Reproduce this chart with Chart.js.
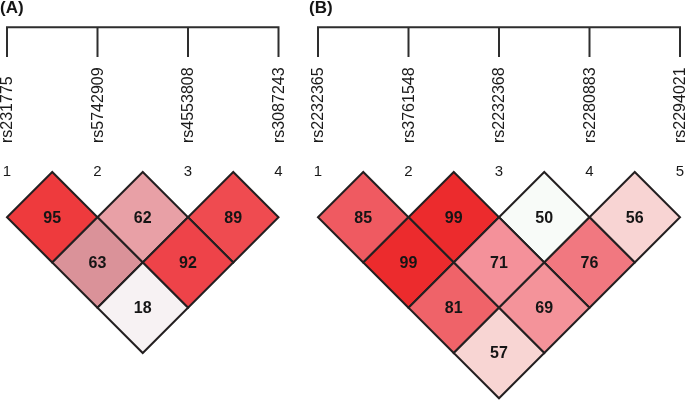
<!DOCTYPE html>
<html>
<head>
<meta charset="utf-8">
<script src="https://cdn.jsdelivr.net/npm/chart.js@4"></script>
<style>
  html, body { margin: 0; padding: 0; background: #fff; }
  #wrap { display: flex; width: 685px; height: 400px; }
  canvas { display: block; }
</style>
</head>
<body>
<div id="wrap">
  <canvas id="chartA" width="300" height="400"></canvas>
  <canvas id="chartB" width="385" height="400"></canvas>
</div>
<script>
// SNP names, in marker order
const snpsA = ['rs231775', 'rs5742909', 'rs4553808', 'rs3087243'];
const snpsB = ['rs2232365', 'rs3761548', 'rs2232368', 'rs2280883', 'rs2294021'];

// D' values, row k holds the pairs (i, i+k+1)
const ldA = [[95, 62, 89], [63, 92], [18]];
const ldB = [[85, 99, 50, 56], [99, 71, 76], [81, 69], [57]];

// cell colours (same layout as the values)
const colorsA = [['#ee3a3d', '#e8a0a6', '#ef4b50'], ['#da9299', '#ee4349'], ['#f7f2f3']];
const colorsB = [['#ef5a61', '#ec2b2d', '#f8fbf8', '#f8d4d3'], ['#ec2b2d', '#f4919a', '#f17880'], ['#ef6369', '#f4939a'], ['#f8d5d3']];

const BRACKET_Y = -1.60;
const TICK_END = -1.27;
const NAME_Y = -0.32;
const NUM_Y = 0;

const toCells = (rows, cols) => {
    let pts = [], bg = [];
    rows.forEach((row, k) => {
        row.forEach((v, i) => {
            pts.push({ x: i + (k + 1) / 2, y: (k + 1) / 2, v: v });
            bg.push(cols[k][i]);
        });
    });
    return { pts, bg };
};

const ldPlugin = {
    id: 'ldPlot',
    afterDatasetsDraw(chart, args, opts) {
        const ctx = chart.ctx;
        const xs = chart.scales.x, ys = chart.scales.y;
        const snps = opts.snps;
        ctx.save();

        // bracket on top
        ctx.strokeStyle = '#2e2e2e';
        ctx.lineWidth = 2;
        ctx.beginPath();
        ctx.moveTo(xs.getPixelForValue(0) - 1, ys.getPixelForValue(BRACKET_Y));
        ctx.lineTo(xs.getPixelForValue(snps.length - 1) + 1, ys.getPixelForValue(BRACKET_Y));
        snps.forEach((s, i) => {
            ctx.moveTo(xs.getPixelForValue(i), ys.getPixelForValue(BRACKET_Y));
            ctx.lineTo(xs.getPixelForValue(i), ys.getPixelForValue(TICK_END));
        });
        ctx.stroke();

        // snp names + numbers
        ctx.fillStyle = '#1a1a1a';
        snps.forEach((s, i) => {
            const x = xs.getPixelForValue(i);
            ctx.save();
            ctx.translate(x + 1, ys.getPixelForValue(NAME_Y));
            ctx.rotate(-Math.PI / 2);
            ctx.font = '16px "Liberation Sans", Arial, sans-serif';
            ctx.textAlign = 'left';
            ctx.textBaseline = 'middle';
            ctx.fillText(s, 0, 0);
            ctx.restore();

            ctx.font = '15px "Liberation Sans", Arial, sans-serif';
            ctx.textAlign = 'center';
            ctx.textBaseline = 'middle';
            ctx.fillText(String(i + 1), x, ys.getPixelForValue(NUM_Y));
        });

        // values in the cells
        ctx.font = 'bold 16px "Liberation Sans", Arial, sans-serif';
        ctx.fillStyle = '#151515';
        ctx.textAlign = 'center';
        ctx.textBaseline = 'middle';
        const meta = chart.getDatasetMeta(0);
        meta.data.forEach((pt, idx) => {
            const raw = chart.data.datasets[0].data[idx];
            ctx.fillText(String(raw.v), pt.x, pt.y + 1);
        });

        // panel title
        ctx.font = 'bold 17px "Liberation Sans", Arial, sans-serif';
        ctx.textAlign = 'left';
        ctx.textBaseline = 'top';
        ctx.fillText(opts.title, opts.titleX, 0);
        ctx.restore();
    }
};

const makeChart = (id, snps, rows, cols, xMin, widthPx, title, titleX) => {
    const unit = 90.5;
    const cells = toCells(rows, cols);
    const halfCell = (c) => {
        const s = c.chart.scales.x;
        return s.getPixelForValue(0.5) - s.getPixelForValue(0);
    };
    return new Chart(document.getElementById(id), {
        type: 'scatter',
        data: {
            datasets: [{
                data: cells.pts,
                pointStyle: 'rectRot',
                backgroundColor: cells.bg,
                borderColor: '#231f20',
                borderWidth: 2,
                pointRadius: halfCell,
                pointHoverRadius: halfCell
            }]
        },
        options: {
            responsive: false,
            animation: false,
            events: [],
            layout: { padding: 0 },
            scales: {
                x: { type: 'linear', display: false, min: xMin, max: xMin + widthPx / unit },
                y: { type: 'linear', display: false, reverse: true, min: -172 / unit, max: -172 / unit + 400 / unit }
            },
            plugins: {
                legend: { display: false },
                tooltip: { enabled: false },
                ldPlot: { snps: snps, title: title, titleX: titleX }
            }
        },
        plugins: [ldPlugin]
    });
};

makeChart('chartA', snpsA, ldA, colorsA, -7 / 90.5, 300, '(A)', 0);
makeChart('chartB', snpsB, ldB, colorsB, -18 / 90.5, 385, '(B)', 9);
</script>
</body>
</html>
